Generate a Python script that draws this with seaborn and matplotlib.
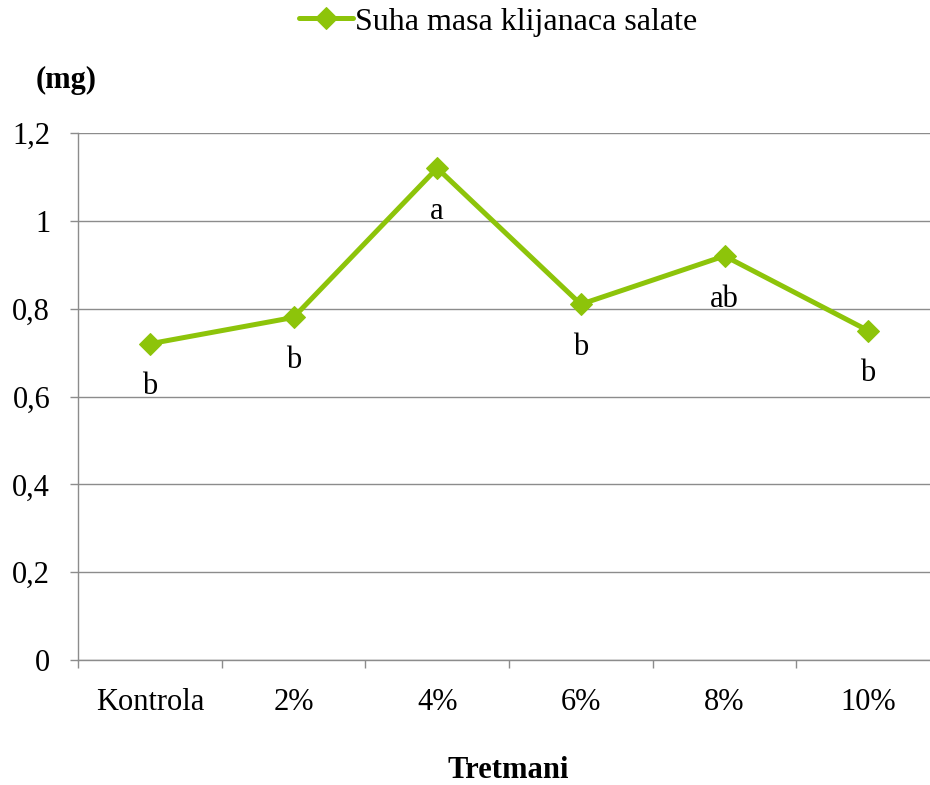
import matplotlib
matplotlib.use("Agg")
import matplotlib.pyplot as plt
import seaborn as sns
import pandas as pd
from matplotlib.ticker import FixedLocator

categories = ["Kontrola", "2%", "4%", "6%", "8%", "10%"]
values = [0.72, 0.78, 1.12, 0.81, 0.92, 0.75]
letters = ["b", "b", "a", "b", "ab", "b"]
yticks = [0, 0.2, 0.4, 0.6, 0.8, 1.0, 1.2]
ytick_labels = ["0", "0,2", "0,4", "0,6", "0,8", "1", "1,2"]
series_name = "Suha masa klijanaca salate"

sns.set_style("white")
plt.rcParams["font.family"] = ["Liberation Serif", "DejaVu Serif"]
plt.rcParams["text.color"] = "black"
plt.rcParams["xtick.labelcolor"] = "black"
plt.rcParams["ytick.labelcolor"] = "black"

df = pd.DataFrame({"Tretman": categories, "Vrijednost": values})
color = "#8DC40A"
grid_col = "#8C8C8C"

fig = plt.figure(figsize=(9.3, 7.85), dpi=100)
ax = fig.add_axes([78 / 930, 125 / 785, 862 / 930, 527 / 785])

sns.lineplot(data=df, x="Tretman", y="Vrijednost", ax=ax, color=color,
             linewidth=3.6, marker="D", markersize=11, markeredgecolor=color,
             markerfacecolor=color, label=series_name, sort=False)

ax.set_xlim(-0.5, len(categories) - 0.5)
ax.set_ylim(0, 1.2)
ax.set_yticks(yticks)
ax.set_yticklabels(ytick_labels)
ax.yaxis.grid(True, color=grid_col, linewidth=1.0)
ax.set_axisbelow(True)
ax.set_xlabel("")
ax.set_ylabel("")

ax.set_xticks(range(len(categories)))
ax.set_xticklabels(categories)
ax.xaxis.set_minor_locator(FixedLocator([i - 0.5 for i in range(len(categories) + 1)]))
ax.tick_params(axis="x", which="major", length=0, pad=20, labelsize=22, labelcolor="black")
ax.tick_params(axis="x", which="minor", length=6, width=1.0, color=grid_col, direction="out", bottom=True)
ax.tick_params(axis="y", which="major", length=6, width=1.0, color=grid_col, direction="out", left=True, pad=14, labelsize=22, labelcolor="black")

for s in ["top", "right"]:
    ax.spines[s].set_visible(False)
for s in ["left", "bottom"]:
    ax.spines[s].set_color(grid_col)
    ax.spines[s].set_linewidth(1.0)

for i, (v, t) in enumerate(zip(values, letters)):
    ax.annotate(t, xy=(i, v), xytext=(0, -31), textcoords="offset points",
                ha="center", va="center", fontsize=22, color="black")

ax.get_legend().remove()
handles, labels = ax.get_legend_handles_labels()
leg = fig.legend(handles, labels, loc="center", bbox_to_anchor=(498 / 930, 1 - 22 / 785),
                 frameon=False, fontsize=23, handlelength=1.7, handletextpad=0.05)
for t in leg.get_texts():
    t.set_color("black")

fig.text(66 / 930, 1 - 80 / 785, "(mg)", ha="center", va="center", fontsize=22, fontweight="bold", color="black")
fig.text(508 / 930, 1 - 770 / 785, "Tretmani", ha="center", va="center", fontsize=22, fontweight="bold", color="black")

fig.savefig("out.png", dpi=100)
